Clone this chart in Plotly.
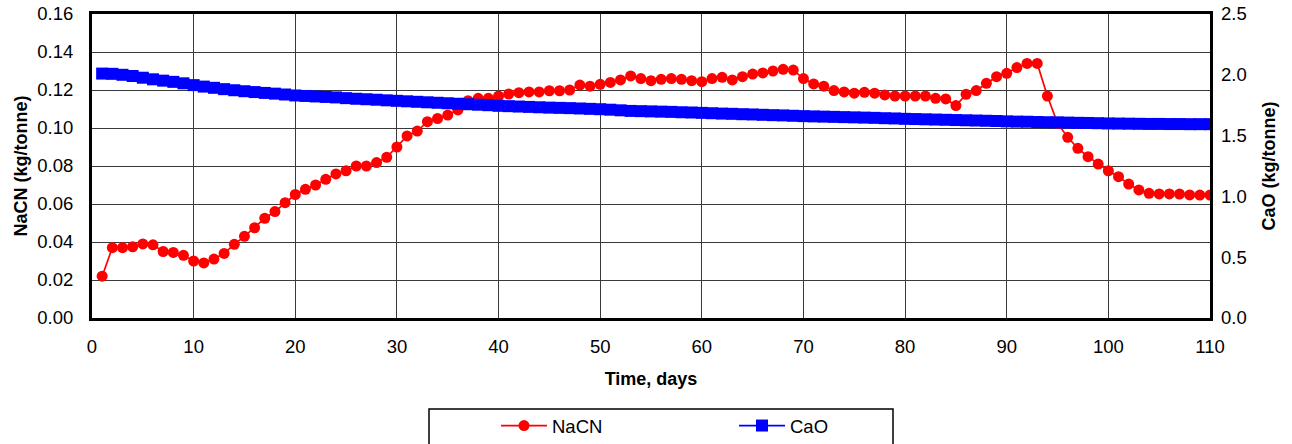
import plotly.graph_objects as go

# Daily readings, days 1..110
days = list(range(1, 111))

nacn = [
    0.022, 0.037, 0.037, 0.0375, 0.039, 0.0385, 0.035, 0.0345, 0.033, 0.030,
    0.029, 0.031, 0.034, 0.0388, 0.043, 0.0475, 0.0525, 0.056, 0.0607, 0.065,
    0.0677, 0.070, 0.073, 0.0758, 0.0775, 0.080, 0.080, 0.0818, 0.0846, 0.090,
    0.0958, 0.0984, 0.1033, 0.105, 0.1068, 0.1095, 0.1144, 0.1156, 0.1156, 0.1168,
    0.1179, 0.1186, 0.119, 0.119, 0.1196, 0.1196, 0.120, 0.1226, 0.122, 0.123,
    0.124, 0.1253, 0.1274, 0.126, 0.1249, 0.1256, 0.126, 0.1256, 0.1249, 0.1244,
    0.126, 0.1267, 0.1253, 0.127, 0.1284, 0.129, 0.130, 0.1309, 0.1305, 0.126,
    0.1232, 0.122, 0.1197, 0.119, 0.1183, 0.1188, 0.1183, 0.1174, 0.1168, 0.1168,
    0.1168, 0.1168, 0.1156, 0.1153, 0.1118, 0.1177, 0.1197, 0.1235, 0.127, 0.1288,
    0.1318, 0.134, 0.134, 0.1168, 0.1025, 0.0951, 0.0893, 0.0849, 0.081, 0.0775,
    0.0744, 0.0705, 0.0674, 0.0656, 0.0653, 0.0653, 0.0652, 0.0648, 0.0647, 0.0647,
]

cao = [
    2.010, 2.008, 2.000, 1.990, 1.976, 1.963, 1.952, 1.942, 1.930, 1.915,
    1.903, 1.893, 1.882, 1.873, 1.865, 1.858, 1.851, 1.845, 1.838, 1.830,
    1.826, 1.822, 1.818, 1.814, 1.808, 1.803, 1.799, 1.795, 1.790, 1.786,
    1.782, 1.778, 1.774, 1.770, 1.766, 1.762, 1.758, 1.754, 1.750, 1.745,
    1.742, 1.739, 1.736, 1.733, 1.730, 1.728, 1.726, 1.723, 1.720, 1.717,
    1.713, 1.708, 1.703, 1.701, 1.699, 1.697, 1.695, 1.692, 1.690, 1.687,
    1.684, 1.681, 1.679, 1.676, 1.674, 1.671, 1.668, 1.666, 1.663, 1.660,
    1.658, 1.656, 1.654, 1.652, 1.650, 1.648, 1.646, 1.643, 1.641, 1.638,
    1.636, 1.634, 1.632, 1.630, 1.628, 1.626, 1.624, 1.622, 1.620, 1.617,
    1.615, 1.614, 1.612, 1.610, 1.609, 1.607, 1.605, 1.604, 1.602, 1.600,
    1.599, 1.598, 1.597, 1.596, 1.596, 1.595, 1.595, 1.594, 1.594, 1.594,
]

x_ticks = list(range(0, 111, 10))
y_ticks = [0.00, 0.02, 0.04, 0.06, 0.08, 0.10, 0.12, 0.14, 0.16]
y2_ticks = [0.0, 0.5, 1.0, 1.5, 2.0, 2.5]

FONT = "Liberation Sans, Arial, sans-serif"
GRID = "#3a3a3a"

W, H = 1292, 444
L, R, T, B = 92, 82, 14, 126
pw = W - L - R
ph = H - T - B


def px_x(p):
    return (p - L) / pw


def px_y(p):
    return (H - B - p) / ph


fig = go.Figure()

fig.add_trace(go.Scatter(
    x=days, y=nacn, name="NaCN", mode="lines+markers",
    line=dict(color="#ff0000", width=1.7),
    marker=dict(symbol="circle", size=11, color="#ff0000"),
    yaxis="y",
))

fig.add_trace(go.Scatter(
    x=days, y=cao, name="CaO", mode="lines+markers",
    line=dict(color="#0000ff", width=1.7),
    marker=dict(symbol="square", size=12, color="#0000ff"),
    yaxis="y2",
))

fig.update_layout(
    width=W, height=H,
    margin=dict(l=L, r=R, t=T, b=B, autoexpand=False),
    paper_bgcolor="white", plot_bgcolor="white",
    font=dict(family=FONT, size=18, color="black"),
    xaxis=dict(
        range=[0, 110], tickvals=x_ticks, ticks="",
        showgrid=True, gridcolor=GRID, gridwidth=1,
        showline=True, linecolor="black", linewidth=3, mirror=True,
        zeroline=False, ticklabelstandoff=10,
        tickfont=dict(size=18.5),
        title=dict(text="<b>Time, days</b>", font=dict(size=18), standoff=17),
    ),
    yaxis=dict(
        range=[0, 0.16], tickvals=y_ticks, tickformat=".2f", ticks="",
        showgrid=True, gridcolor=GRID, gridwidth=1,
        showline=True, linecolor="black", linewidth=3, mirror=True,
        zeroline=False, ticklabelstandoff=12,
        tickfont=dict(size=18.5),
        title=dict(text="<b>NaCN (kg/tonne)</b>", font=dict(size=18), standoff=5),
    ),
    yaxis2=dict(
        range=[0, 2.5], tickvals=y2_ticks, tickformat=".1f", ticks="",
        overlaying="y", side="right", showgrid=False,
        showline=False, zeroline=False, ticklabelstandoff=10,
        tickfont=dict(size=18.5),
        title=dict(text="<b>CaO (kg/tonne)</b>", font=dict(size=18), standoff=16),
    ),
    legend=dict(
        orientation="h", x=px_x(496), y=px_y(407), xanchor="left", yanchor="top",
        bgcolor="rgba(0,0,0,0)", borderwidth=0,
        font=dict(size=18.5), entrywidth=177, entrywidthmode="pixels",
        itemwidth=46,
    ),
    shapes=[dict(
        type="rect", xref="paper", yref="paper",
        x0=px_x(429), x1=px_x(893), y0=px_y(450), y1=px_y(409),
        line=dict(color="black", width=1.5), fillcolor="rgba(0,0,0,0)",
        layer="above",
    )],
    showlegend=True,
)

fig.write_html("out.html")
